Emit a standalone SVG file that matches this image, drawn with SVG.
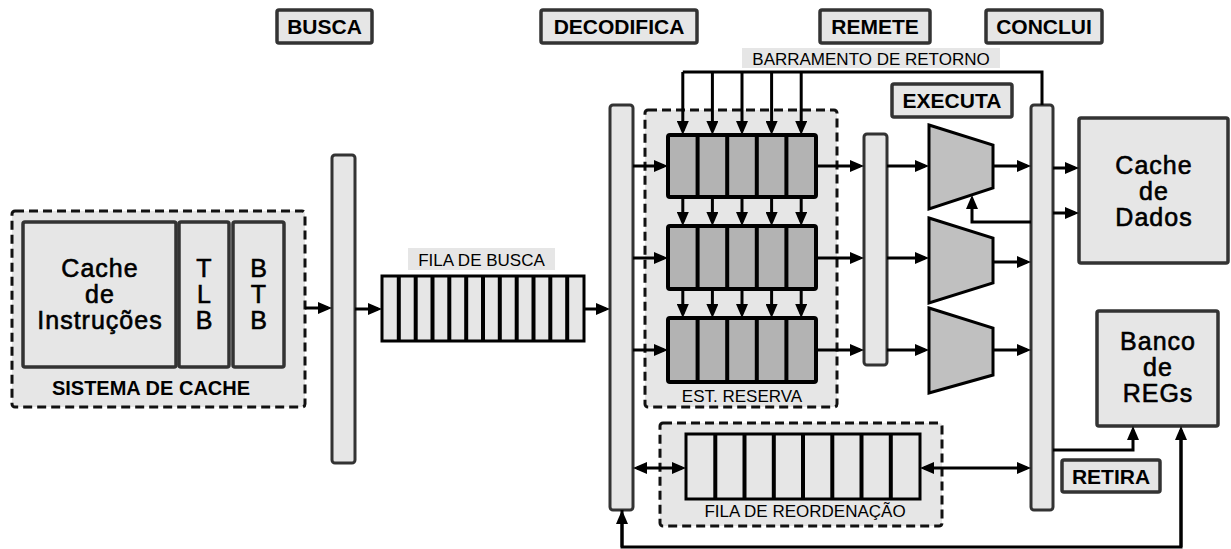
<svg xmlns="http://www.w3.org/2000/svg" width="1231" height="549" viewBox="0 0 1231 549">
<style>
.lbl{fill:#e6e6e6;stroke:#333;stroke-width:3.5}
.bar{fill:#e6e6e6;stroke:#333;stroke-width:3}
.box{fill:#e6e6e6;stroke:#333;stroke-width:3.5}
.dash{fill:#e6e6e6;stroke:#111;stroke-width:3;stroke-dasharray:9 5}
.q{fill:#e6e6e6;stroke:#000;stroke-width:3}
.rs{fill:#b3b3b3;stroke:#000;stroke-width:4}
.div{stroke:#000;stroke-width:4}
.alu{fill:#c0c0c0;stroke:#000;stroke-width:3;stroke-linejoin:miter}
.ttl{font-family:"Liberation Sans",Arial,sans-serif;font-weight:bold;font-size:21px;fill:#000;text-anchor:middle}
.big{font-family:"Liberation Sans",Arial,sans-serif;font-size:25px;letter-spacing:1px;fill:#000;stroke:#000;stroke-width:0.6;text-anchor:middle}
.sm{font-family:"Liberation Sans",Arial,sans-serif;font-size:17px;fill:#000;text-anchor:middle}
.ln{fill:none;stroke:#000;stroke-width:3}
.a{marker-end:url(#ah)}
.aa{marker-end:url(#ah);marker-start:url(#ah)}
</style>
<defs>
<marker id="ah" markerUnits="userSpaceOnUse" viewBox="0 0 14 12" markerWidth="14" markerHeight="12" refX="10" refY="6" orient="auto-start-reverse">
<path d="M0,0 L14,6 L0,12 z" fill="#000"/>
</marker>
</defs>
<rect width="1231" height="549" fill="#fff"/>

<g id="stage-busca"><rect class="lbl" x="277" y="10" width="95" height="33" rx="2"/><text class="ttl" x="324.5" y="34">BUSCA</text></g>
<g id="stage-decodifica"><rect class="lbl" x="541" y="10" width="156" height="33" rx="2"/><text class="ttl" x="619" y="34">DECODIFICA</text></g>
<g id="stage-remete"><rect class="lbl" x="820" y="10" width="110" height="33" rx="2"/><text class="ttl" x="875" y="34">REMETE</text></g>
<g id="stage-conclui"><rect class="lbl" x="986" y="10" width="116" height="33" rx="2"/><text class="ttl" x="1044" y="34">CONCLUI</text></g>
<g id="stage-executa"><rect class="lbl" x="892" y="84" width="120" height="33" rx="2"/><text class="ttl" x="952" y="108">EXECUTA</text></g>
<g id="stage-retira"><rect class="lbl" x="1062" y="460" width="98" height="32" rx="2"/><text class="ttl" x="1111" y="484">RETIRA</text></g>

<g id="sistema-cache">
<rect class="dash" x="12" y="211" width="293" height="196" rx="3"/>
<rect class="box" x="23" y="222" width="153" height="145" rx="2"/>
<text class="big" x="100" y="277">Cache<tspan x="100" y="303">de</tspan><tspan x="100" y="329">Instruções</tspan></text>
<rect class="box" x="179" y="222" width="50" height="145" rx="2"/>
<text class="big" x="204.5" y="277">T<tspan x="204.5" y="303">L</tspan><tspan x="204.5" y="329">B</tspan></text>
<rect class="box" x="233" y="222" width="51" height="145" rx="2"/>
<text class="big" x="259" y="277">B<tspan x="259" y="303">T</tspan><tspan x="259" y="329">B</tspan></text>
<text class="ttl" x="151" y="395" style="font-size:20px">SISTEMA DE CACHE</text>
</g>

<g id="barra-busca"><rect class="bar" x="332" y="155" width="23" height="308" rx="3"/></g>

<g id="fila-busca">
<rect x="408" y="248" width="147" height="22" fill="#e6e6e6"/>
<text class="sm" x="481.5" y="266">FILA DE BUSCA</text>
<rect class="q" x="382" y="276" width="202" height="65"/>
<path class="div" d="M398.8,276V341M415.7,276V341M432.5,276V341M449.3,276V341M466.2,276V341M483,276V341M499.8,276V341M516.7,276V341M533.5,276V341M550.3,276V341M567.2,276V341"/>
</g>

<g id="barra-decodifica"><rect class="bar" x="610" y="105" width="23" height="405" rx="3"/></g>

<g id="est-reserva">
<rect class="dash" x="645" y="110" width="192" height="297" rx="3"/>
<rect class="rs" x="668" y="135" width="148" height="62" rx="2"/>
<path class="div" d="M697.6,135V197M727.2,135V197M756.8,135V197M786.4,135V197"/>
<rect class="rs" x="668" y="226" width="148" height="63" rx="2"/>
<path class="div" d="M697.6,226V289M727.2,226V289M756.8,226V289M786.4,226V289"/>
<rect class="rs" x="668" y="318" width="148" height="64" rx="2"/>
<path class="div" d="M697.6,318V382M727.2,318V382M756.8,318V382M786.4,318V382"/>
<text class="sm" x="742" y="402">EST. RESERVA</text>
</g>

<g id="barra-remete"><rect class="bar" x="864" y="134" width="23" height="231" rx="3"/></g>

<g id="alu-1"><path class="alu" d="M929,125 L993,145 L993,188 L929,209 Z"/></g>
<g id="alu-2"><path class="alu" d="M929,218 L993,238 L993,283 L929,303 Z"/></g>
<g id="alu-3"><path class="alu" d="M929,308 L993,328 L993,375 L929,393 Z"/></g>

<g id="barra-conclui"><rect class="bar" x="1031" y="105" width="22" height="405" rx="3"/></g>

<g id="cache-dados">
<rect class="box" x="1079" y="118" width="149" height="145" rx="2"/>
<text class="big" x="1154" y="174">Cache<tspan x="1154" y="200">de</tspan><tspan x="1154" y="226">Dados</tspan></text>
</g>

<g id="banco-regs">
<rect class="box" x="1097" y="311" width="121" height="115" rx="2"/>
<text class="big" x="1158" y="350">Banco<tspan x="1158" y="376">de</tspan><tspan x="1158" y="402">REGs</tspan></text>
</g>

<g id="barramento-retorno">
<rect x="742" y="48" width="258" height="20" fill="#e6e6e6"/>
<text class="sm" x="871" y="65">BARRAMENTO DE RETORNO</text>
</g>

<g id="fila-reordenacao">
<rect class="dash" x="660" y="423" width="282" height="103" rx="3"/>
<rect class="q" x="686" y="434" width="234" height="65"/>
<path class="div" d="M715.3,434V499M744.5,434V499M773.8,434V499M803,434V499M832.3,434V499M861.5,434V499M890.8,434V499"/>
<text class="sm" x="805" y="517">FILA DE REORDENAÇÃO</text>
</g>

<g id="conectores">
<path class="ln a" d="M305,308H328"/>
<path class="ln a" d="M355,309H378"/>
<path class="ln a" d="M584,309H606"/>
<path class="ln a" d="M633,166H664"/>
<path class="ln a" d="M633,258H664"/>
<path class="ln a" d="M633,350H664"/>
<path class="ln" d="M682.8,72H1042V105"/>
<path class="ln a" d="M682.8,72V131"/>
<path class="ln a" d="M712.4,72V131"/>
<path class="ln a" d="M742,72V131"/>
<path class="ln a" d="M771.6,72V131"/>
<path class="ln a" d="M801.2,72V131"/>
<path class="ln a" d="M682.8,197V222"/>
<path class="ln a" d="M712.4,197V222"/>
<path class="ln a" d="M742,197V222"/>
<path class="ln a" d="M771.6,197V222"/>
<path class="ln a" d="M801.2,197V222"/>
<path class="ln a" d="M682.8,289V314"/>
<path class="ln a" d="M712.4,289V314"/>
<path class="ln a" d="M742,289V314"/>
<path class="ln a" d="M771.6,289V314"/>
<path class="ln a" d="M801.2,289V314"/>
<path class="ln a" d="M816,166H860"/>
<path class="ln a" d="M816,258H860"/>
<path class="ln a" d="M816,350H860"/>
<path class="ln a" d="M887,166H925"/>
<path class="ln a" d="M887,258H925"/>
<path class="ln a" d="M887,350H925"/>
<path class="ln a" d="M993,166H1027"/>
<path class="ln a" d="M993,262H1027"/>
<path class="ln a" d="M993,350H1027"/>
<path class="ln a" d="M1031,222H972V199"/>
<path class="ln a" d="M1053,168H1075"/>
<path class="ln a" d="M1053,213H1075"/>
<path class="ln aa" d="M637,468H682"/>
<path class="ln aa" d="M924,468H1027"/>
<path class="ln a" d="M1053,450H1133V430"/>
<path class="ln" d="M1181,430V547H622V510"/>
<path class="ln a" d="M1181,547V430"/>
<path class="ln a" d="M622,547V514"/>
</g>
</svg>
